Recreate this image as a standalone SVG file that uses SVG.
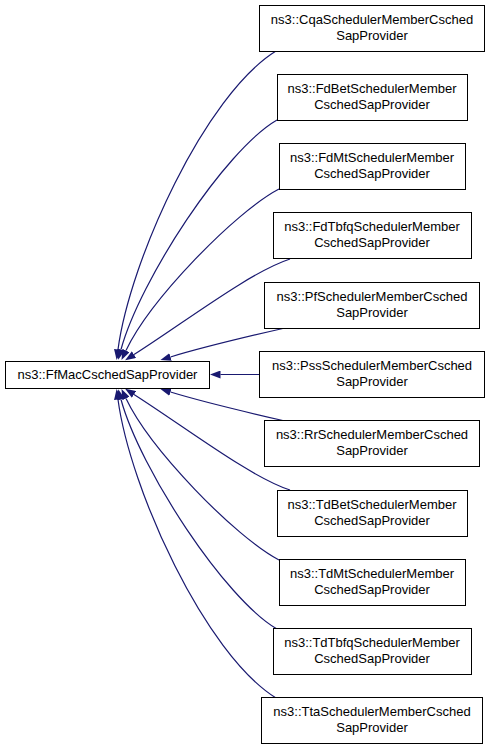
<svg xmlns="http://www.w3.org/2000/svg" width="491" height="749" viewBox="0 0 491 749">
<style>
  .box { fill: #ffffff; stroke: #000000; stroke-width: 1; }
  .lbl { font-family: "Liberation Sans", Arial, Helvetica, sans-serif; font-size: 13px; fill: #000000; text-anchor: middle; }
  .edge { fill: none; stroke: #191970; stroke-width: 1.2; marker-end: url(#arr); }
</style>
<defs>
  <marker id="arr" viewBox="0 0 10.5 8" refX="0" refY="4" markerWidth="10.5" markerHeight="8" markerUnits="userSpaceOnUse" orient="auto">
    <path d="M0,0 L10.5,4 L0,8 Z" fill="#191970" stroke="none"/>
  </marker>
</defs>
<rect width="491" height="749" fill="#ffffff"/>

<g id="connectors">
  <path class="edge" d="M276,51 C205,95 130,260 118,349.5"/>
  <path class="edge" d="M277,120 C225,150 140,280 121,349.5"/>
  <path class="edge" d="M279,189 C235,212 150,300 126,350.5"/>
  <path class="edge" d="M290,259 C250,272 185,322 134,354.5"/>
  <path class="edge" d="M285,328 C250,336 200,348 170.5,357"/>
  <path class="edge" d="M259,374.5 L220.5,374.5"/>
  <path class="edge" d="M285,421 C250,413 200,401 170.5,392"/>
  <path class="edge" d="M290,490 C250,477 185,427 134,394.5"/>
  <path class="edge" d="M279,560 C235,537 150,449 126,398.5"/>
  <path class="edge" d="M277,629 C225,599 140,469 121,399.5"/>
  <path class="edge" d="M276,698 C205,654 130,489 118,399.5"/>
</g>

<g id="FfMacCschedSapProvider">
  <rect class="box" x="5.5" y="361.5" width="204" height="27"/>
  <text class="lbl" x="107.5" y="378.5">ns3::FfMacCschedSapProvider</text>
</g>

<g id="CqaSchedulerMemberCschedSapProvider">
  <rect class="box" x="259.5" y="5.5" width="225" height="46"/>
  <text class="lbl" x="372" y="23.5">ns3::CqaSchedulerMemberCsched</text>
  <text class="lbl" x="372" y="39.5">SapProvider</text>
</g>

<g id="FdBetSchedulerMemberCschedSapProvider">
  <rect class="box" x="277.5" y="74.5" width="190" height="46"/>
  <text class="lbl" x="372" y="92.5">ns3::FdBetSchedulerMember</text>
  <text class="lbl" x="372" y="108.5">CschedSapProvider</text>
</g>

<g id="FdMtSchedulerMemberCschedSapProvider">
  <rect class="box" x="279.5" y="143.5" width="186" height="46"/>
  <text class="lbl" x="372" y="161.5">ns3::FdMtSchedulerMember</text>
  <text class="lbl" x="372" y="177.5">CschedSapProvider</text>
</g>

<g id="FdTbfqSchedulerMemberCschedSapProvider">
  <rect class="box" x="273.5" y="212.5" width="198" height="46"/>
  <text class="lbl" x="372" y="230.5">ns3::FdTbfqSchedulerMember</text>
  <text class="lbl" x="372" y="246.5">CschedSapProvider</text>
</g>

<g id="PfSchedulerMemberCschedSapProvider">
  <rect class="box" x="264.5" y="282.5" width="215" height="46"/>
  <text class="lbl" x="372" y="300.5">ns3::PfSchedulerMemberCsched</text>
  <text class="lbl" x="372" y="316.5">SapProvider</text>
</g>

<g id="PssSchedulerMemberCschedSapProvider">
  <rect class="box" x="259.5" y="351.5" width="225" height="46"/>
  <text class="lbl" x="372" y="369.5">ns3::PssSchedulerMemberCsched</text>
  <text class="lbl" x="372" y="385.5">SapProvider</text>
</g>

<g id="RrSchedulerMemberCschedSapProvider">
  <rect class="box" x="264.5" y="420.5" width="215" height="46"/>
  <text class="lbl" x="372" y="438.5">ns3::RrSchedulerMemberCsched</text>
  <text class="lbl" x="372" y="454.5">SapProvider</text>
</g>

<g id="TdBetSchedulerMemberCschedSapProvider">
  <rect class="box" x="277.5" y="490.5" width="190" height="46"/>
  <text class="lbl" x="372" y="508.5">ns3::TdBetSchedulerMember</text>
  <text class="lbl" x="372" y="524.5">CschedSapProvider</text>
</g>

<g id="TdMtSchedulerMemberCschedSapProvider">
  <rect class="box" x="279.5" y="559.5" width="186" height="46"/>
  <text class="lbl" x="372" y="577.5">ns3::TdMtSchedulerMember</text>
  <text class="lbl" x="372" y="593.5">CschedSapProvider</text>
</g>

<g id="TdTbfqSchedulerMemberCschedSapProvider">
  <rect class="box" x="273.5" y="628.5" width="198" height="46"/>
  <text class="lbl" x="372" y="646.5">ns3::TdTbfqSchedulerMember</text>
  <text class="lbl" x="372" y="662.5">CschedSapProvider</text>
</g>

<g id="TtaSchedulerMemberCschedSapProvider">
  <rect class="box" x="261.5" y="697.5" width="221" height="46"/>
  <text class="lbl" x="372" y="715.5">ns3::TtaSchedulerMemberCsched</text>
  <text class="lbl" x="372" y="731.5">SapProvider</text>
</g>
</svg>
